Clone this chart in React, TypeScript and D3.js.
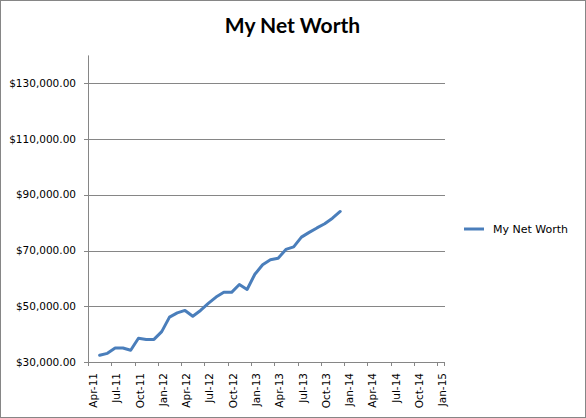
import React from "react";
import * as d3 from "d3";

const title = "My Net Worth";
const seriesName = "My Net Worth";
const axisStart = "2011-04";
const axisEnd = "2015-01";
const dates = [
  "2011-05", "2011-06", "2011-07", "2011-08", "2011-09", "2011-10", "2011-11", "2011-12",
  "2012-01", "2012-02", "2012-03", "2012-04", "2012-05", "2012-06", "2012-07", "2012-08",
  "2012-09", "2012-10", "2012-11", "2012-12", "2013-01", "2013-02", "2013-03", "2013-04",
  "2013-05", "2013-06", "2013-07", "2013-08", "2013-09", "2013-10", "2013-11", "2013-12",
];
const values = [
  32400, 33100, 35000, 35000, 34200, 38500, 38100, 38100,
  40900, 46100, 47600, 48500, 46400, 48500, 51000, 53300,
  55000, 55000, 57800, 56000, 61500, 64900, 66700, 67200,
  70400, 71300, 74800, 76500, 78100, 79600, 81600, 84000,
];
const yTicks = [30000, 50000, 70000, 90000, 110000, 130000];
const yDomain = [30000, 140000];

export default function App() {
  const W = 586, H = 418;
  const parse = d3.timeParse("%Y-%m");
  const fmtKey = d3.timeFormat("%Y-%m");
  const fmtLabel = d3.timeFormat("%b-%y");
  const months = d3.timeMonth.range(parse(axisStart)!, d3.timeMonth.offset(parse(axisEnd)!, 1));
  const keys = months.map((m) => fmtKey(m));
  const x = d3.scaleBand<string>().domain(keys).range([88, 445]).padding(0);
  const y = d3.scaleLinear().domain(yDomain).range([362, 55.4]);
  const bw = x.bandwidth();
  const tickMonths = months.filter((_, i) => i % 3 === 0);
  const line = d3
    .line<number>()
    .x((_, i) => (x(dates[i]) ?? 0) + bw / 2)
    .y((v) => y(v))
    .curve(d3.curveLinear);
  const grid = "#868686";
  const axisFont = "'DejaVu Sans', Verdana, sans-serif";
  const blue = "#4A7EBB";
  const [x0, x1] = x.range();
  return (
    <svg
      width={W}
      height={H}
      style={{ position: "absolute", left: 0, top: 0, background: "#fff" }}
    >
      <rect x={0.5} y={0.5} width={W - 1} height={H - 1} fill="#fff" stroke={grid} />
      <text
        x={292.5}
        y={33}
        textAnchor="middle"
        fontFamily="Lato, 'Open Sans', sans-serif"
        fontWeight="bold"
        fontSize={21}
        fill="#000"
      >
        {title}
      </text>
      {/* gridlines */}
      {yTicks.map((t) => (
        <g key={t}>
          <line x1={84} x2={x1} y1={Math.round(y(t)) + 0.5} y2={Math.round(y(t)) + 0.5} stroke={grid} strokeWidth={1} />
          <text
            x={76}
            y={y(t)}
            dy="0.35em"
            textAnchor="end"
            fontFamily={axisFont}
            fontSize={10.5}
            fill="#000"
          >
            {d3.format("$,.2f")(t)}
          </text>
        </g>
      ))}
      {/* y axis */}
      <line x1={x0 + 0.5} x2={x0 + 0.5} y1={y(yDomain[1])} y2={y(yDomain[0]) + 4} stroke={grid} />
      {/* x axis */}
      <line x1={x0} x2={x1} y1={Math.round(y(yDomain[0])) + 0.5} y2={Math.round(y(yDomain[0])) + 0.5} stroke={grid} />
      {tickMonths.map((m) => {
        const k = fmtKey(m);
        const tx = Math.round(x(k) ?? 0) + 0.5;
        const cx = (x(k) ?? 0) + bw / 2 + 1.5;
        return (
          <g key={k}>
            <line x1={tx} x2={tx} y1={y(yDomain[0])} y2={y(yDomain[0]) + 4} stroke={grid} />
            <text
              transform={`translate(${cx},${y(yDomain[0]) + 11}) rotate(-90)`}
              dy="0.35em"
              textAnchor="end"
              fontFamily={axisFont}
              fontSize={10.5}
              fill="#000"
            >
              {fmtLabel(m)}
            </text>
          </g>
        );
      })}
      <line x1={x1 - 0.5} x2={x1 - 0.5} y1={y(yDomain[0])} y2={y(yDomain[0]) + 4} stroke={grid} />
      <path
        d={line(values) ?? ""}
        fill="none"
        stroke={blue}
        strokeWidth={3}
        strokeLinejoin="round"
        strokeLinecap="round"
      />
      {/* legend */}
      <line x1={464} x2={484} y1={229} y2={229} stroke={blue} strokeWidth={3} />
      <text x={493} y={229} dy="0.35em" fontFamily={axisFont} fontSize={11} fill="#000">
        {seriesName}
      </text>
    </svg>
  );
}
